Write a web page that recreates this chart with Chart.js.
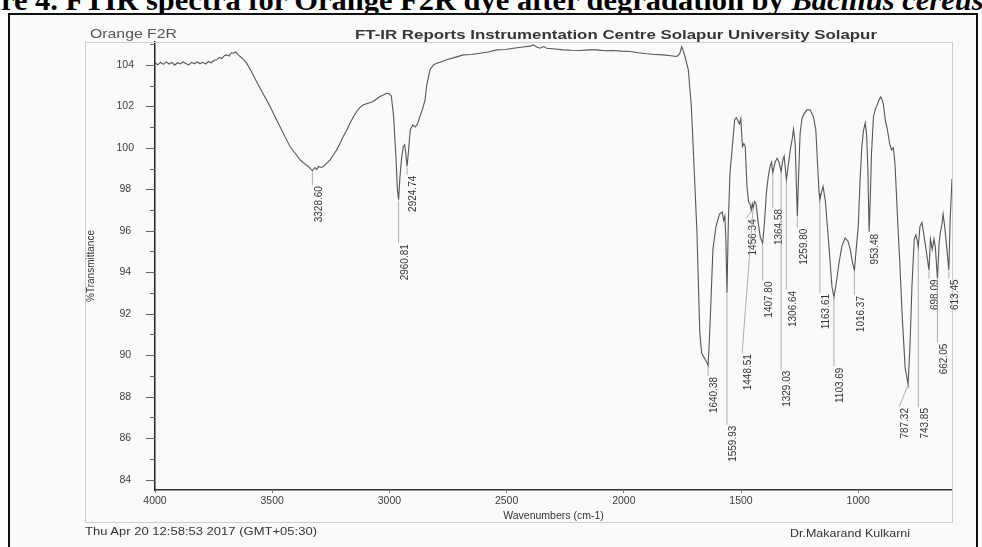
<!DOCTYPE html>
<html>
<head>
<meta charset="utf-8">
<title>FT-IR Orange F2R</title>
<script src="https://cdn.jsdelivr.net/npm/chart.js"></script>
<style>
  html, body { margin: 0; padding: 0; background: #fff; overflow: hidden; }
  #page { position: relative; width: 982px; height: 547px; overflow: hidden; background: #fff; }
  #sheet { position: absolute; left: 8px; top: 13px; width: 966px; height: 540px; border: 2px solid #111; background: #fbfafb; }
  #spectrum { position: absolute; left: 0; top: 0; }
  .txt { position: absolute; white-space: nowrap; font-family: "Liberation Sans", Arial, sans-serif; line-height: 14px; transform-origin: left center; }
  #caption { position: absolute; white-space: nowrap; font-family: "Liberation Serif", "Times New Roman", serif; font-weight: bold; color: #000; line-height: 1; }
</style>
</head>
<body>
<div id="page">
  <div id="caption"><span id="capHead">Figu</span>re 4. FTIR spectra for Orange F2R dye after degradation by <i>Bacillus cereus</i></div>
  <div id="sheet"></div>
  <canvas id="spectrum" width="982" height="547"></canvas>
  <div class="txt" id="sample" style="left:90px; top:27px; font-size:13px; color:#555;">Orange F2R</div>
  <div class="txt" id="header" style="left:355px; top:28px; font-size:13px; font-weight:bold; color:#363636;">FT-IR Reports Instrumentation Centre Solapur University Solapur</div>
  <div class="txt" id="stamp" style="left:85px; top:524px; font-size:11.5px; color:#333;">Thu Apr 20 12:58:53 2017 (GMT+05:30)</div>
  <div class="txt" id="operator" style="left:790px; top:526px; font-size:11.5px; color:#333;">Dr.Makarand Kulkarni</div>
</div>
<script>
'use strict';

// spectrum (cm-1 / %T)
let wavenumbers = [
  4000, 3988, 3976, 3964, 3952, 3940, 3928, 3916, 3904, 3892, 3880, 3868, 3856, 3844, 3832, 3820,
  3808, 3796, 3784, 3772, 3760, 3748, 3737, 3726, 3715, 3704, 3694, 3684, 3675, 3666, 3656, 3646,
  3637, 3623, 3609, 3590, 3572, 3552, 3530, 3509, 3488, 3467, 3446, 3424, 3403, 3381, 3364, 3346,
  3336, 3328.60, 3318, 3310, 3303, 3292, 3282, 3268, 3253, 3239, 3225, 3211, 3197, 3182, 3168, 3154,
  3140, 3125, 3111, 3090, 3069, 3055, 3040, 3026, 3012, 3000, 2992, 2982, 2972, 2966, 2960.81, 2955,
  2948, 2941, 2935, 2930, 2924.74, 2918, 2911, 2900, 2890, 2880, 2870, 2858, 2848, 2841, 2827, 2812,
  2798, 2777, 2756, 2720, 2685, 2650, 2614, 2578, 2542, 2505, 2471, 2430, 2400, 2386, 2372, 2358,
  2343, 2329, 2293, 2258, 2222, 2187, 2150, 2116, 2080, 2045, 2010, 1974, 1938, 1902, 1866, 1832,
  1800, 1774, 1762, 1753, 1746, 1739, 1725, 1712, 1700, 1688, 1676, 1668, 1658, 1648, 1640.38, 1634,
  1628, 1620, 1607, 1592, 1580, 1574, 1569, 1565, 1559.93, 1554, 1547, 1540, 1533, 1527, 1520, 1513,
  1507, 1501, 1494, 1488, 1482, 1475, 1468, 1462, 1456.34, 1452, 1448.51, 1442, 1436, 1428, 1418, 1407.80,
  1400, 1392, 1384, 1376, 1370, 1364.58, 1355, 1346, 1338, 1329.03, 1322, 1316, 1306.64, 1299, 1290, 1282,
  1276, 1269, 1264, 1259.80, 1254, 1248, 1240, 1233, 1219, 1205, 1191, 1181, 1173, 1167, 1163.61, 1158,
  1150, 1140, 1126, 1112, 1103.69, 1092, 1084, 1070, 1056, 1044, 1034, 1024, 1016.37, 1008, 1000, 992,
  985, 978, 970, 964, 959, 953.48, 948, 944, 935, 926, 918, 910, 904, 898, 893, 884,
  876, 866, 858, 850, 843, 836, 830, 822, 812, 800, 787.32, 779, 771, 761, 754, 748,
  743.85, 737, 728, 720, 712, 698.09, 692, 684, 677, 671, 662.05, 655, 650, 643, 638, 631,
  625, 613.45, 608, 600
];
let transmittance = [
  104.10, 104.00, 104.12, 104.02, 104.14, 104.04, 104.12, 103.98, 104.10, 104.04, 104.14, 104.06, 104.00, 104.12, 104.05, 104.14,
  104.06, 104.12, 104.04, 104.16, 104.10, 104.22, 104.24, 104.36, 104.30, 104.44, 104.48, 104.42, 104.58, 104.56, 104.62, 104.50,
  104.40, 104.26, 104.08, 103.70, 103.30, 102.88, 102.42, 101.99, 101.50, 101.03, 100.55, 100.06, 99.75, 99.42, 99.25, 99.10,
  98.98, 98.90, 99.05, 98.95, 99.10, 99.05, 99.10, 99.25, 99.42, 99.65, 99.90, 100.20, 100.54, 100.85, 101.19, 101.48,
  101.75, 101.95, 102.07, 102.15, 102.23, 102.35, 102.47, 102.55, 102.63, 102.60, 102.50, 101.50, 99.50, 98.00, 97.50, 98.60,
  99.50, 100.05, 100.15, 99.70, 99.10, 99.90, 100.87, 101.10, 101.00, 101.15, 101.50, 101.90, 102.30, 103.00, 103.76, 104.00,
  104.08, 104.15, 104.24, 104.36, 104.48, 104.50, 104.56, 104.62, 104.72, 104.74, 104.80, 104.86, 104.90, 104.96, 104.86, 104.80,
  104.88, 104.80, 104.76, 104.72, 104.70, 104.69, 104.72, 104.72, 104.68, 104.69, 104.66, 104.64, 104.58, 104.53, 104.50, 104.48,
  104.44, 104.40, 104.52, 104.88, 104.65, 104.40, 103.76, 102.00, 99.00, 95.90, 91.10, 90.10, 89.90, 89.70, 89.50, 91.00,
  92.70, 95.10, 96.20, 96.80, 96.90, 96.50, 96.70, 95.70, 93.00, 96.50, 98.80, 99.70, 100.60, 101.35, 101.45, 101.30,
  101.15, 101.40, 100.06, 100.20, 100.06, 98.20, 97.40, 97.30, 97.00, 97.30, 97.10, 97.40, 97.30, 96.50, 95.70, 95.40,
  96.40, 97.80, 98.60, 99.10, 99.30, 98.80, 99.30, 99.50, 99.30, 98.86, 99.40, 99.60, 98.46, 99.10, 99.90, 100.40,
  100.90, 100.20, 98.30, 96.70, 98.80, 100.70, 101.40, 101.60, 101.83, 101.83, 101.50, 100.87, 99.10, 97.80, 97.50, 97.80,
  98.14, 97.40, 95.40, 93.30, 92.80, 93.60, 94.30, 95.25, 95.65, 95.50, 95.10, 94.44, 94.10, 95.20, 96.20, 98.50,
  100.00, 100.80, 101.20, 100.60, 99.00, 95.95, 97.80, 99.60, 101.50, 101.90, 102.10, 102.35, 102.45, 102.30, 102.10, 101.30,
  100.90, 100.20, 99.90, 100.00, 99.20, 97.50, 96.05, 94.30, 91.80, 89.40, 88.60, 90.50, 93.30, 95.60, 95.80, 95.50,
  95.20, 96.20, 96.40, 95.80, 95.20, 94.10, 95.60, 95.10, 95.60, 95.20, 93.70, 95.40, 95.90, 96.30, 96.80, 96.20,
  95.50, 94.10, 96.50, 98.50
];

let xTicks = [4000, 3500, 3000, 2500, 2000, 1500, 1000];
let yTicks = [84, 86, 88, 90, 92, 94, 96, 98, 100, 102, 104];

// picked peaks, printed under each minimum
let peakWavenumbers = [3328.60, 2960.81, 2924.74, 1640.38, 1559.93, 1456.34, 1448.51, 1407.80, 1364.58, 1329.03, 1306.64,
  1259.80, 1163.61, 1103.69, 1016.37, 953.48, 787.32, 743.85, 698.09, 662.05, 613.45];

// where each peak label starts (in %T) and a sideways nudge in px for crowded ones
let labelTop = [98.2, 95.4, 98.7, 89.0, 86.65, 96.6, 90.1, 93.6, 97.1, 89.3, 93.15,
  96.15, 93.0, 89.45, 92.9, 95.9, 87.5, 87.5, 93.7, 90.6, 93.7];
let labelNudge = [0, 0, 0, 0, 0, -5, -11, 0, 0, 0, 0, 0, 0, 0, 0, 0, -9, 0, 0, 0, 0];

function fitWidth(id, w) {
  let el = document.getElementById(id);
  let r = el.getBoundingClientRect().width;
  el.style.transform = 'scaleX(' + (w / r) + ')';
}
fitWidth('sample', 87);
fitWidth('header', 522);
fitWidth('stamp', 232);
fitWidth('operator', 120);

// caption: first letters run off the left edge
let cap = document.getElementById('caption');
let capHead = document.getElementById('capHead');
let fs = 24;
cap.style.fontSize = fs + 'px';
let shown = cap.getBoundingClientRect().width - capHead.getBoundingClientRect().width;
fs = fs * 983 / shown;
cap.style.fontSize = fs + 'px';
cap.style.left = (1 - capHead.getBoundingClientRect().width) + 'px';
cap.style.top = (10.5 - 0.8375 * fs) + 'px';

let framePlugin = {
  id: 'frame',
  beforeDatasetsDraw(chart) {
    let c = chart.ctx;
    let a = chart.chartArea;
    c.save();
    c.strokeStyle = '#cdcdcd';
    c.lineWidth = 1;
    c.strokeRect(chart.scales.y.left + 0.5, a.top + 0.5, a.right - chart.scales.y.left, chart.scales.x.bottom - a.top);
    c.restore();
  }
};

let yTickMarks = {
  id: 'yTickMarks',
  afterDraw(chart) {
    let c = chart.ctx;
    let y = chart.scales.y;
    let left = chart.chartArea.left;
    c.save();
    c.strokeStyle = '#666';
    c.lineWidth = 1;
    c.beginPath();
    for (let v = Math.ceil(y.min); v <= y.max; v++) {
      let py = Math.round(y.getPixelForValue(v)) + 0.5;
      let len = v % 2 === 0 ? 9 : 5;
      c.moveTo(left - len, py);
      c.lineTo(left, py);
    }
    c.stroke();
    c.restore();
  }
};

let peakLabels = {
  id: 'peakLabels',
  afterDatasetsDraw(chart) {
    let c = chart.ctx;
    let x = chart.scales.x;
    let y = chart.scales.y;
    c.save();
    c.font = '10px "Liberation Sans", Arial, sans-serif';
    c.fillStyle = '#333';
    c.strokeStyle = '#9a9a9a';
    c.lineWidth = 0.8;
    for (let i = 0; i < peakWavenumbers.length; i++) {
      let wn = peakWavenumbers[i];
      let idx = wavenumbers.findIndex(w => Math.abs(w - wn) < 1e-6);
      let px = x.getPixelForValue(wn);
      let tipY = y.getPixelForValue(transmittance[idx]);
      let topY = y.getPixelForValue(labelTop[i]);
      let lx = px + labelNudge[i];
      if (topY - tipY > 2) {
        c.beginPath();
        c.moveTo(px, tipY + 1);
        c.lineTo(lx, topY);
        c.stroke();
      }
      c.save();
      c.translate(lx + 1.5, topY + 1);
      c.rotate(-Math.PI / 2);
      c.textAlign = 'right';
      c.textBaseline = 'top';
      c.fillText(wn.toFixed(2), 0, 0);
      c.restore();
    }
    c.restore();
  }
};

let tickFont = { family: '"Liberation Sans", Arial, sans-serif', size: 10.5 };

let ctx = document.getElementById('spectrum').getContext('2d');
let chart = new Chart(ctx, {
  type: 'line',
  data: {
    datasets: [{
      label: 'Orange F2R',
      data: wavenumbers.map((w, i) => ({ x: w, y: transmittance[i] })),
      borderColor: '#555',
      borderWidth: 1.1,
      pointRadius: 0,
      tension: 0,
      fill: false
    }]
  },
  options: {
    responsive: false,
    animation: false,
    devicePixelRatio: 1,
    layout: { padding: { left: 85, top: 42, right: 30, bottom: 25 } },
    plugins: {
      legend: { display: false },
      tooltip: { enabled: false }
    },
    scales: {
      x: {
        type: 'linear',
        reverse: true,
        min: 600,
        max: 4000,
        afterBuildTicks: s => { s.ticks = xTicks.map(v => ({ value: v })); },
        afterFit: s => { s.height = 32; },
        grid: { display: true, drawOnChartArea: false, tickLength: 3, color: '#777' },
        border: { display: true, color: '#333', width: 1.5 },
        ticks: { padding: 2, color: '#3c3c3c', font: tickFont, maxRotation: 0, autoSkip: false, callback: v => String(v) },
        title: {
          display: true,
          text: 'Wavenumbers (cm-1)',
          color: '#333',
          font: { family: '"Liberation Sans", Arial, sans-serif', size: 10.5 },
          padding: { top: 0, bottom: 0 }
        }
      },
      y: {
        min: 83.5,
        max: 105.1,
        afterBuildTicks: s => { s.ticks = yTicks.map(v => ({ value: v })); },
        afterFit: s => { s.width = 70; },
        grid: { display: false },
        border: { display: true, color: '#20212c', width: 1.5 },
        ticks: { padding: 13, crossAlign: 'center', color: '#3c3c3c', font: tickFont, callback: v => String(v) },
        title: {
          display: true,
          text: '%Transmittance',
          color: '#333',
          font: { family: '"Liberation Sans", Arial, sans-serif', size: 10 },
          padding: { top: 0, bottom: 0 }
        }
      }
    }
  },
  plugins: [framePlugin, yTickMarks, peakLabels]
});
</script>
</body>
</html>
